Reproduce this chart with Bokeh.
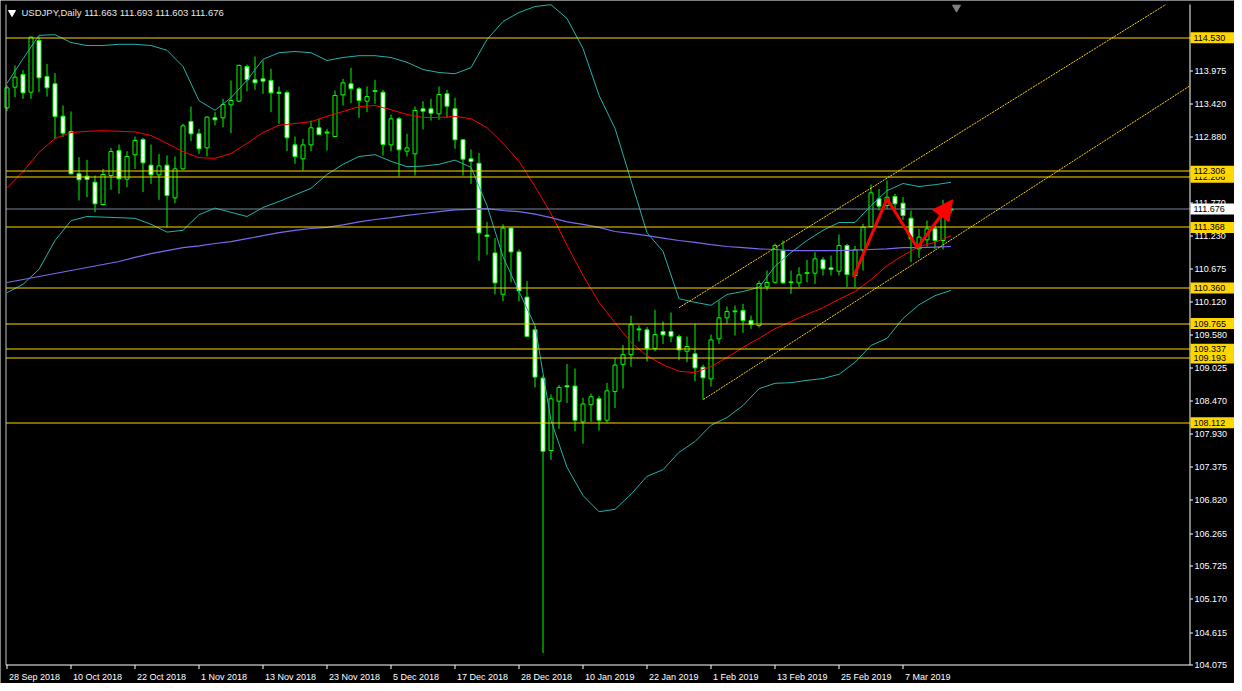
import math
from bokeh.plotting import figure
from bokeh.models import Range1d, Arrow, NormalHead, ColumnDataSource
from bokeh.core.properties import value
from bokeh.embed import file_html
from bokeh.resources import INLINE

# ---------------- data (USDJPY daily, bar index 0 = 28 Sep 2018) ----------------
opens = [113.361, 113.706, 113.917, 113.622, 114.483, 113.883, 113.761, 113.222, 112.967, 112.261,
         112.222, 112.122, 111.750, 112.233, 112.650, 112.172, 112.578, 112.833, 112.406, 112.244,
         112.406, 111.861, 112.344, 113.133, 112.928, 112.694, 113.194, 113.194, 113.411, 113.472,
         114.050, 113.828, 113.844, 113.817, 113.622, 113.617, 112.744, 112.511, 112.744, 113.028,
         112.950, 112.883, 113.578, 113.761, 113.678, 113.472, 113.645, 113.622, 112.744, 113.178,
         112.639, 112.594, 113.344, 113.344, 113.261, 113.594, 113.344, 112.828, 112.511, 112.437,
         111.240, 110.943, 110.253, 111.357, 110.960, 110.207, 109.661, 108.857, 107.650, 108.472,
         108.730, 108.724, 108.127, 108.414, 108.512, 108.155, 108.632, 109.086, 109.247, 109.670,
         109.661, 109.351, 109.633, 109.633, 109.550, 109.305, 109.261, 109.039, 108.844, 109.511,
         109.861, 109.970, 109.983, 109.816, 109.733, 110.380, 110.455, 110.983, 110.455, 110.444,
         110.605, 110.605, 110.827, 110.694, 110.639, 111.066, 110.567, 110.994, 111.383, 111.844,
         111.733, 111.883, 111.772, 111.522, 111.011, 111.161, 111.344, 111.150, 111.663]
highs = [113.733, 114.067, 113.994, 114.550, 114.550, 114.094, 113.939, 113.400, 113.300, 112.539,
         112.494, 112.233, 112.344, 112.694, 112.750, 112.639, 112.883, 112.861, 112.750, 112.594,
         112.567, 112.550, 113.094, 113.383, 113.011, 113.217, 113.289, 113.511, 113.817, 114.083,
         114.083, 114.217, 114.150, 114.011, 113.717, 113.650, 112.883, 112.844, 113.150, 113.178,
         113.011, 113.650, 113.844, 114.028, 113.706, 113.717, 113.828, 113.661, 113.250, 113.206,
         112.928, 113.383, 113.472, 113.511, 113.717, 113.661, 113.528, 112.844, 112.667, 112.611,
         111.460, 111.190, 111.420, 111.362, 111.000, 110.472, 109.719, 108.903, 108.586, 108.742,
         109.092, 109.017, 108.529, 108.598, 108.558, 108.776, 109.190, 109.408, 109.897, 109.736,
         109.707, 109.994, 109.800, 109.950, 109.583, 109.550, 109.761, 109.083, 109.583, 110.150,
         110.050, 110.066, 110.094, 109.900, 110.480, 110.650, 111.100, 111.150, 110.650, 110.705,
         110.827, 110.955, 110.872, 110.900, 111.250, 111.094, 111.060, 111.428, 112.083, 112.011,
         112.150, 111.928, 111.872, 111.650, 111.344, 111.483, 111.400, 111.828, 111.693]
lows = [113.306, 113.539, 113.511, 113.511, 113.622, 113.550, 112.844, 112.872, 112.250, 111.817,
        111.872, 111.622, 111.733, 111.994, 111.928, 112.039, 112.344, 111.956, 112.094, 111.828,
        111.372, 111.772, 112.330, 112.806, 112.594, 112.550, 113.067, 113.039, 112.939, 113.456,
        113.639, 113.661, 113.594, 113.289, 113.094, 112.639, 112.428, 112.317, 112.639, 112.900,
        112.650, 112.872, 113.400, 113.439, 113.194, 113.289, 113.428, 112.567, 112.639, 112.217,
        112.550, 112.233, 113.000, 113.150, 113.161, 113.194, 112.678, 112.233, 112.094, 110.811,
        110.914, 110.253, 110.138, 110.454, 110.138, 109.546, 108.701, 104.276, 107.494, 108.012,
        108.443, 107.972, 107.765, 108.127, 107.983, 108.109, 108.357, 108.684, 109.046, 109.466,
        109.132, 109.305, 109.427, 109.455, 109.161, 109.122, 108.805, 108.500, 108.716, 109.427,
        109.761, 109.566, 109.611, 109.677, 109.700, 110.320, 110.430, 110.427, 110.261, 110.372,
        110.450, 110.427, 110.566, 110.566, 110.566, 110.372, 110.372, 110.650, 111.370, 111.650,
        111.678, 111.678, 111.494, 110.789, 110.861, 111.050, 111.011, 111.000, 111.603]
closes = [113.694, 113.872, 113.611, 114.539, 113.861, 113.694, 113.217, 112.939, 112.261, 112.161,
          112.167, 111.761, 112.250, 112.633, 112.178, 112.550, 112.817, 112.444, 112.244, 112.394,
          111.900, 112.344, 113.061, 112.928, 112.678, 113.206, 113.161, 113.417, 113.483, 114.067,
          113.828, 113.778, 113.806, 113.611, 113.600, 112.861, 112.550, 112.744, 113.028, 112.917,
          112.940, 113.567, 113.778, 113.678, 113.483, 113.550, 113.635, 112.750, 113.178, 112.661,
          112.694, 113.317, 113.306, 113.272, 113.583, 113.389, 112.828, 112.506, 112.467, 111.276,
          111.220, 110.443, 111.357, 110.960, 110.311, 109.552, 108.874, 107.638, 108.512, 108.701,
          108.710, 108.155, 108.426, 108.546, 108.155, 108.644, 109.075, 109.247, 109.747, 109.661,
          109.351, 109.581, 109.577, 109.555, 109.327, 109.383, 109.027, 108.861, 109.494, 109.861,
          109.966, 109.962, 109.816, 109.750, 110.433, 110.450, 111.066, 110.444, 110.450, 110.577,
          110.611, 110.844, 110.677, 110.666, 111.066, 110.583, 110.994, 111.372, 111.944, 111.722,
          111.872, 111.761, 111.567, 111.178, 111.206, 111.344, 111.150, 111.660, 111.676]
bar_index = list(range(len(opens)))

# indicator readings, sampled every second bar
band_index = list(range(0, 119, 2))
bb_upper = [113.77, 114.18, 114.57, 114.58, 114.45, 114.40, 114.40, 114.42, 114.42, 114.40,
            114.32, 114.05, 113.48, 113.32, 113.53, 113.82, 114.17, 114.28, 114.30, 114.28,
            114.15, 114.20, 114.23, 114.23, 114.20, 114.12, 114.00, 113.95, 113.93, 114.03,
            114.50, 114.80, 114.95, 115.05, 115.08, 114.85, 114.35, 113.57, 113.02, 112.15,
            111.28, 110.97, 110.18, 110.12, 110.07, 110.25, 110.30, 110.37, 110.72, 110.95,
            111.15, 111.32, 111.45, 111.45, 111.73, 111.98, 112.10, 112.05, 112.08, 112.12]
bb_middle = [112.03, 112.30, 112.62, 112.85, 112.95, 112.97, 112.98, 112.97, 112.96, 112.90,
             112.77, 112.63, 112.53, 112.52, 112.60, 112.77, 112.95, 113.07, 113.10, 113.13,
             113.22, 113.30, 113.38, 113.40, 113.33, 113.25, 113.20, 113.20, 113.22, 113.18,
             113.03, 112.77, 112.47, 112.05, 111.60, 111.07, 110.57, 110.12, 109.78, 109.45,
             109.23, 109.08, 108.97, 108.95, 109.05, 109.20, 109.37, 109.52, 109.68, 109.80,
             109.92, 110.03, 110.17, 110.30, 110.50, 110.73, 110.90, 111.05, 111.12, 111.23]
bb_lower = [110.28, 110.42, 110.67, 111.15, 111.48, 111.55, 111.54, 111.53, 111.52, 111.42,
            111.29, 111.32, 111.58, 111.69, 111.62, 111.55, 111.70, 111.80, 111.91, 112.02,
            112.25, 112.42, 112.55, 112.58, 112.47, 112.38, 112.39, 112.42, 112.49, 112.37,
            111.73, 110.88, 110.30, 109.73, 108.15, 107.37, 106.90, 106.63, 106.67, 106.92,
            107.22, 107.33, 107.62, 107.80, 108.07, 108.20, 108.40, 108.68, 108.77, 108.78,
            108.82, 108.85, 108.92, 109.12, 109.40, 109.52, 109.85, 110.08, 110.23, 110.32]
ma_long = [110.45, 110.50, 110.55, 110.60, 110.65, 110.70, 110.75, 110.80, 110.87, 110.93,
           110.98, 111.03, 111.06, 111.10, 111.13, 111.18, 111.23, 111.28, 111.32, 111.35,
           111.37, 111.41, 111.46, 111.50, 111.53, 111.57, 111.60, 111.63, 111.66, 111.67,
           111.68, 111.65, 111.63, 111.59, 111.53, 111.46, 111.42, 111.37, 111.30, 111.27,
           111.23, 111.19, 111.15, 111.12, 111.08, 111.05, 111.03, 111.01, 111.00, 110.98,
           110.98, 110.98, 110.98, 110.99, 111.00, 111.01, 111.03, 111.03, 111.04, 111.05]

levels = [114.530, 112.206, 112.306, 111.368, 110.360, 109.765, 109.193, 109.337, 108.112]
bid_price = 111.676
price_ticks = [114.530, 113.975, 113.420, 112.880, 112.325, 111.770, 111.230, 110.675, 110.120,
               109.580, 109.025, 108.470, 107.930, 107.375, 106.820, 106.265, 105.725, 105.170,
               104.615, 104.075]
date_ticks = [0, 8, 16, 24, 32, 40, 48, 56, 64, 72, 80, 88, 96, 104, 112]
date_labels = ["28 Sep 2018", "10 Oct 2018", "22 Oct 2018", "1 Nov 2018", "13 Nov 2018",
               "23 Nov 2018", "5 Dec 2018", "17 Dec 2018", "28 Dec 2018", "10 Jan 2019",
               "22 Jan 2019", "1 Feb 2019", "13 Feb 2019", "25 Feb 2019", "7 Mar 2019"]

# drawn objects, anchored in (bar index, price)
channel_lower = [(87.05, 108.50), (121.6, 111.47)]
channel_upper = [(84.0, 110.03), (112.3, 112.38)]
zigzag_x = [105.8, 110.0, 113.8]
zigzag_y = [110.54, 111.845, 111.03]
arrow_end = (118.2, 111.83)

# ---------------- styling / geometry ----------------
GREEN = "#00ff00"
GOLD = "#ffd700"
TEAL = "#20b2aa"
RED = "#ff0000"
BLUE = "#7b68ee"
GREY = "#778899"
FONT = "Liberation Sans"
W, H = 1234, 683


def kx(px):   # screen x -> bar index (8 px per bar, bar centres on pixel centres)
    return (px - 6.5) / 8.0


def py(y):    # screen y -> price (60 px per yen)
    return 114.53 - (y - 37.2) / 60.0


def crisp(v):  # nudge a horizontal 1px line onto a pixel centre
    y = 37.2 + (114.53 - v) * 60.0
    return py(math.floor(y) + 0.5)


K_L, K_R = kx(5.5), kx(1189.5)
P_T, P_B = py(4), py(664.5)

p = figure(width=W, height=H, output_backend="svg", toolbar_location=None,
           x_range=Range1d(kx(0), kx(W)), y_range=Range1d(py(H), py(0)),
           x_axis_location=None, y_axis_location=None,
           min_border_left=0, min_border_top=0, min_border_right=0, min_border_bottom=0,
           background_fill_color="black", border_fill_color="black")
p.outline_line_color = None
p.xgrid.grid_line_color = None
p.ygrid.grid_line_color = None

# ---- candles
tops = [max(o, c) for o, c in zip(opens, closes)]
bots = [min(o, c) for o, c in zip(opens, closes)]
fills = ["white" if c < o else "black" for o, c in zip(opens, closes)]
src = ColumnDataSource(dict(k=bar_index, h=highs, l=lows, top=tops, bot=bots, fill=fills))
p.segment("k", "h", "k", "l", source=src, line_color=GREEN, line_width=1)
p.vbar(x="k", width=0.5, top="top", bottom="bot", fill_color="fill", line_color=GREEN,
       line_width=1, source=src)
doji_k = [k for k, o, c in zip(bar_index, opens, closes) if abs(o - c) < 0.015]
doji_y = [crisp(opens[k]) for k in doji_k]
p.segment([k - 0.3 for k in doji_k], doji_y, [k + 0.3 for k in doji_k], doji_y,
          line_color=GREEN, line_width=1)

# ---- indicators
p.line(band_index, bb_upper, line_color=TEAL, line_width=1)
p.line(band_index, bb_lower, line_color=TEAL, line_width=1)
p.line(band_index, bb_middle, line_color=RED, line_width=1)
p.line(band_index, ma_long, line_color=BLUE, line_width=1.2)

# ---- horizontal levels and bid line
lv_y = [crisp(v) for v in levels]
p.segment([K_L] * len(levels), lv_y, [K_R] * len(levels), lv_y, line_color=GOLD, line_width=1)
p.segment([K_L], [crisp(bid_price)], [K_R], [crisp(bid_price)], line_color=GREY, line_width=1)


# ---- channel rays, clipped to the chart area
def ray(a, b):
    (k0, p0), (k1, p1) = a, b
    s = (p1 - p0) / (k1 - k0)
    k_end = min(K_R, k0 + (P_T - p0) / s)
    return [k0, k_end], [p0, p0 + s * (k_end - k0)]


for ch in (channel_lower, channel_upper):
    xs, ys = ray(*ch)
    p.line(xs, ys, line_color=GOLD, line_width=1, line_dash="2 1")

# ---- red zigzag with arrow
p.line(zigzag_x, zigzag_y, line_color=RED, line_width=3, level="overlay")
p.add_layout(Arrow(end=NormalHead(size=20, fill_color=RED, line_color=RED),
                   x_start=zigzag_x[-1], y_start=zigzag_y[-1], x_end=arrow_end[0],
                   y_end=arrow_end[1], line_color=RED, line_width=3, level="overlay"))

# ---- frame: left border, bottom time axis, right price axis
p.segment([K_L], [P_B], [K_L], [P_T], line_color="#c0c0c0", line_width=1)
p.segment([K_L], [P_B], [K_R], [P_B], line_color="white", line_width=1)
p.segment([K_R], [P_B], [K_R], [P_T], line_color="white", line_width=1)

tick_len_p = 4 / 60.0
p.segment(date_ticks, [P_B] * len(date_ticks), date_ticks, [P_B - tick_len_p] * len(date_ticks),
          line_color="white", line_width=1)
p.text(x=[k + 2 / 8.0 for k in date_ticks], y=[py(676)] * len(date_ticks), text=date_labels,
       text_color="white", text_font=value(FONT), text_font_size=value("9px"),
       text_align="left", text_baseline="middle")

k_tick_end = K_R + 3 / 8.0
tk_y = [crisp(v) for v in price_ticks]
p.segment([K_R] * len(price_ticks), tk_y, [k_tick_end] * len(price_ticks), tk_y,
          line_color="white", line_width=1)
p.text(x=[kx(1194)] * len(price_ticks), y=price_ticks, text=[f"{v:.3f}" for v in price_ticks],
       text_color="white", text_font=value(FONT), text_font_size=value("9px"),
       text_align="left", text_baseline="middle")

half_box = 5.5 / 60.0
box_labels = levels + [bid_price]
box_colors = [GOLD] * len(levels) + ["white"]
for v, col in zip(box_labels, box_colors):
    p.quad(left=[kx(1190)], right=[kx(W)], top=[v + half_box], bottom=[v - half_box],
           fill_color=col, line_color=None)
    p.text(x=[kx(1193)], y=[v], text=[f"{v:.3f}"], text_color="black", text_font=value(FONT),
           text_font_size=value("9px"), text_align="left", text_baseline="middle")

# ---- header and chart-shift marker
p.scatter([kx(11.5)], [py(12)], marker="inverted_triangle", size=7, fill_color="white",
          line_color="white")
header = f"USDJPY,Daily {opens[-1]:.3f} {highs[-1]:.3f} {lows[-1]:.3f} {closes[-1]:.3f}"
p.text(x=[kx(21)], y=[py(12)], text=[header], text_color="#e6e6e6", text_font=value(FONT),
       text_font_size=value("9.5px"), text_align="left", text_baseline="middle")
p.scatter([kx(956)], [py(7)], marker="inverted_triangle", size=8, fill_color="#808080",
          line_color="#808080")

open("out.html", "w").write(file_html(p, INLINE))
